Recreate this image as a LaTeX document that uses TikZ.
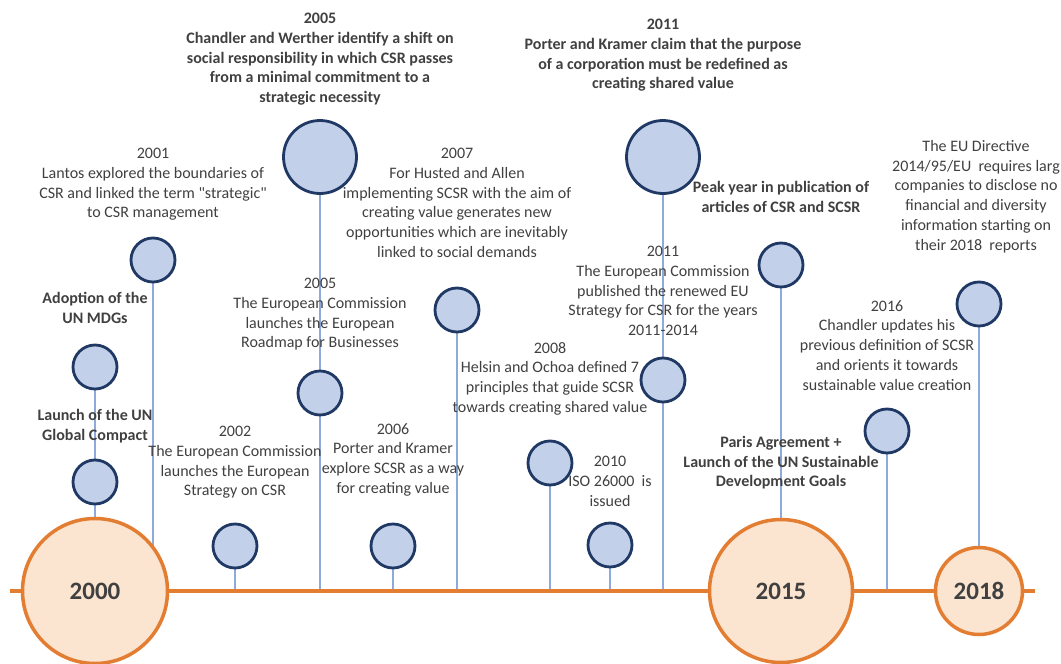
\documentclass[tikz,border=0pt]{standalone}
\usepackage{fontspec}
\setmainfont{Carlito}[Ligatures=TeXOff]
\definecolor{navy}{HTML}{203864}
\definecolor{bluefill}{HTML}{C3D0EA}
\definecolor{stemblue}{HTML}{8EA9DB}
\definecolor{orangeline}{HTML}{E27D32}
\definecolor{peach}{HTML}{FBE4D0}
\definecolor{txt}{HTML}{404040}
\tikzset{
  evt/.style={circle, draw=navy, line width=2.8pt, fill=bluefill, minimum size=44pt, inner sep=0pt},
  bigevt/.style={evt, minimum size=73pt},
  yr/.style={circle, draw=orangeline, line width=3.5pt, fill=peach, inner sep=0pt, text=txt,
             font=\bfseries\fontsize{25}{30}\selectfont},
  lbl/.style={align=center, inner sep=0pt, anchor=north, text=txt,
              font=\fontsize{16}{19.75}\selectfont},
  blbl/.style={lbl, font=\bfseries\fontsize{16}{19.75}\selectfont},
  stem/.style={draw=stemblue, line width=1.6pt},
  tline/.style={draw=orangeline, line width=3.2pt},
}
\begin{document}
\begin{tikzpicture}[x=1pt,y=-1pt]
\useasboundingbox (0,0) rectangle (1061,664);
% timeline end points
\coordinate (tl0) at (10,591);
\coordinate (tl1) at (1035,591);
\coordinate (t2001) at (153,591);
\coordinate (t2000) at (95,591);
\coordinate (t2002) at (235,591);
\coordinate (t2005) at (320,591);
\coordinate (t2006) at (393,591);
\coordinate (t2007) at (457,591);
\coordinate (t2008) at (550,591);
\coordinate (t2010) at (610,591);
\coordinate (t2011) at (663,591);
\coordinate (t2015) at (781,591);
\coordinate (t2016) at (887,591);
\coordinate (t2018) at (979,591);
% event circle positions
\path
  (153,260) coordinate (p2001)
  (95,367)  coordinate (pmdg)
  (95,482)  coordinate (pgc)
  (235,546) coordinate (p2002)
  (320,157) coordinate (p2005a)
  (320,393) coordinate (p2005b)
  (393,546) coordinate (p2006)
  (457,310) coordinate (p2007)
  (550,463) coordinate (p2008)
  (610,545) coordinate (p2010)
  (663,157) coordinate (p2011a)
  (663,380) coordinate (p2011b)
  (781,265) coordinate (ppeak)
  (887,431) coordinate (p2016)
  (979,304) coordinate (peu);
% stems
\draw[stem] (p2001) -- (t2001);
\draw[stem] (pmdg) -- (pgc);
\draw[stem] (pgc) -- (t2000);
\draw[stem] (p2002) -- (t2002);
\draw[stem] (p2005a) -- (p2005b);
\draw[stem] (p2005b) -- (t2005);
\draw[stem] (p2006) -- (t2006);
\draw[stem] (p2007) -- (t2007);
\draw[stem] (p2008) -- (t2008);
\draw[stem] (p2010) -- (t2010);
\draw[stem] (p2011a) -- (p2011b);
\draw[stem] (p2011b) -- (t2011);
\draw[stem] (ppeak) -- (t2015);
\draw[stem] (p2016) -- (t2016);
\draw[stem] (peu) -- (t2018);
% timeline
\draw[tline] (tl0) -- (tl1);
% year circles
\node[yr, minimum size=145pt] (y2000) at (t2000) {2000};
\node[yr, minimum size=143pt] (y2015) at (t2015) {2015};
\node[yr, minimum size=87pt]  (y2018) at (t2018) {2018};
% event circles
\node[evt] (c2001) at (p2001) {};
\node[evt] (cmdg) at (pmdg) {};
\node[evt] (cgc) at (pgc) {};
\node[evt] (c2002) at (p2002) {};
\node[bigevt] (c2005a) at (p2005a) {};
\node[evt] (c2005b) at (p2005b) {};
\node[evt] (c2006) at (p2006) {};
\node[evt] (c2007) at (p2007) {};
\node[evt] (c2008) at (p2008) {};
\node[evt] (c2010) at (p2010) {};
\node[bigevt] (c2011a) at (p2011a) {};
\node[evt] (c2011b) at (p2011b) {};
\node[evt] (cpeak) at (ppeak) {};
\node[evt] (c2016) at (p2016) {};
\node[evt] (ceu) at (peu) {};
% labels
\node[blbl] (l2005a) at (320,13) {2005\\Chandler and Werther identify a shift on\\social responsibility in which CSR passes\\from a minimal commitment to a\\strategic necessity};
\node[blbl] (l2011a) at (663,19) {2011\\Porter and Kramer claim that the purpose\\of a corporation must be redefined as\\creating shared value};
\node[lbl] (l2001) at (153,148) {2001\\Lantos explored the boundaries of\\CSR and linked the term "strategic"\\to CSR management};
\node[blbl] (lmdg) at (95,292) {Adoption of the\\UN MDGs};
\node[blbl] (lgc) at (95,409) {Launch of the UN\\Global Compact};
\node[lbl] (l2002) at (235,426) {2002\\The European Commission\\launches the European\\Strategy on CSR};
\node[lbl] (l2005b) at (320,278) {2005\\The European Commission\\launches the European\\Roadmap for Businesses};
\node[lbl] (l2007) at (457,148) {2007\\For Husted and Allen\\implementing SCSR with the aim of\\creating value generates new\\opportunities which are inevitably\\linked to social demands};
\node[lbl] (l2006) at (393,423) {2006\\Porter and Kramer\\explore SCSR as a way\\for creating value};
\node[lbl] (l2008) at (550,342) {2008\\Helsin and Ochoa defined 7\\principles that guide SCSR\\towards creating shared value};
\node[lbl] (l2011b) at (663,246) {2011\\The European Commission\\published the renewed EU\\Strategy for CSR for the years\\2011-2014};
\node[lbl] (l2010) at (610,456) {2010\\ISO 26000\ \ is\\issued};
\node[blbl] (lpeak) at (781,181) {Peak year in publication of\\articles of CSR and SCSR};
\node[lbl] (leu) at (976,140) {The EU Directive\\2014/95/EU\ \ requires larg\\companies to disclose no\\financial and diversity\\information starting on\\their 2018\ \ reports};
\node[lbl] (l2016) at (887,300) {2016\\Chandler updates his\\previous definition of SCSR\\and orients it towards\\sustainable value creation};
\node[blbl] (lparis) at (781,436) {Paris Agreement +\\Launch of the UN Sustainable\\Development Goals};
\end{tikzpicture}
\end{document}
